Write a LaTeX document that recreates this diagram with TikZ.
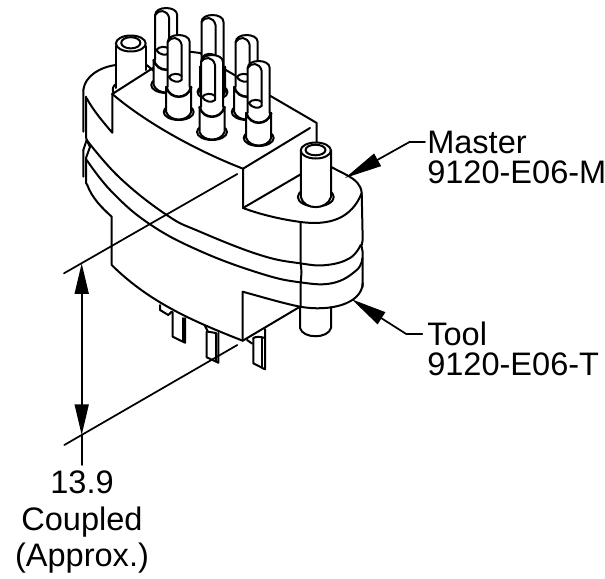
\documentclass[tikz,border=0pt]{standalone}
\usepackage{fontspec}
\setmainfont{Liberation Sans}
\usetikzlibrary{arrows.meta}
\tikzset{
  ln/.style={line width=1.5pt,line join=round,line cap=round},
  thin ln/.style={line width=1.3pt,line join=round,line cap=round},
  lab/.style={inner sep=0pt,align=left,anchor=base west,font=\fontsize{24.4}{22.5}\selectfont},
  dimlab/.style={inner sep=0pt,align=center,anchor=base,font=\fontsize{24.4}{27.5}\selectfont},
  head/.style={-{Triangle[length=#1,width=10.5pt]},line width=1.3pt}
}
\newcommand{\slotpin}[2]{%
\begin{scope}[shift={(#1,#2)}]
  \draw[ln,fill=white] (0,77) ellipse [x radius=15,y radius=8];
  \draw[ln,fill=white] (-12.5,52) -- (-12.5,77) .. controls (-9,87) and (9,87) .. (12.5,77) -- (12.5,52);
  \draw[ln,fill=white] (-11,52) -- (-11,7) .. controls (-11,-2.3) and (11,-2.3) .. (11,7) -- (11,52);
  \draw[line width=1.9pt,line cap=round] (-12.5,52) .. controls (-9,65) and (9,65) .. (12.5,52);
  \draw[ln] (-11,7) .. controls (-8,1.5) and (1,1) .. (3,10) -- (3,45);
  \draw[ln] (-10,42) .. controls (-7,38) and (0,38) .. (3,41);
  \draw[ln] (-10,42) .. controls (-7,47) and (0,48) .. (3,45);
\end{scope}}
\begin{document}
\begin{tikzpicture}[x=0.75pt,y=-0.75pt]
\useasboundingbox (0,0) rectangle (605,578);
% blades under the body
\draw[ln] (160,305) -- (160,310) -- (168.3,315) -- (171.7,311.7);
\draw[ln] (172.7,312) -- (172.7,336.7) -- (185,342.7) -- (185,318);
\draw[ln] (183,318) -- (183,341);
\draw[ln] (205,326) -- (208,331.7) -- (216,333);
\draw[ln] (206.7,331.7) -- (206.7,357.3) -- (218.3,362.7) -- (218.3,333);
\draw[ln] (215.7,333) -- (215.7,361);
\draw[ln] (247,340) -- (252,343.5);
\draw[ln] (253.3,338) -- (253.3,363.3) -- (265,369.3) -- (265,329);
\draw[ln] (262.3,338) -- (262.3,367);
\draw[ln] (253.3,338) .. controls (256,336.5) and (260,336.5) .. (265,338);
% lower stub of the large pin
\draw[ln] (300,306.7) -- (300,328) .. controls (303,339) and (328,339) .. (331,328) -- (331,307);
% body lower part
\draw[ln] (87.3,185) .. controls (92,198) and (102,208) .. (111.7,216.7) -- (111.7,265)
  .. controls (150,303) and (195,322) .. (242.7,340.7) -- (300,306.7);
\draw[ln] (242.7,340.7) -- (242.7,291.7) .. controls (262,297) and (282,303) .. (300,306.7)
  .. controls (330,312) and (362,304) .. (362.7,283);
\draw[ln] (300.7,222) -- (300.7,263) -- (301.5,272) -- (300.7,283) -- (300.7,307);
% the two bands
\draw[ln] plot[smooth,tension=.7] coordinates {(86.7,140) (120,178) (166.7,215) (200,231.7) (260,255) (300,263.3) (326.7,265) (350,258) (360.7,245)};
\draw[ln] plot[smooth,tension=.7] coordinates {(86.7,160) (112,192) (150,224.3) (200,251) (260,273.3) (300,282.3) (333,283) (356.7,270) (362.3,258)};
% left silhouette
\draw[ln] (83.3,150) -- (83.3,176.7) (86,158) -- (86,183) -- (87.3,185);
\draw[ln] (86.7,140) -- (83.3,150) (86.7,140) -- (90,147) -- (86,158);
\draw[ln] (83.3,90) -- (83.3,131.7) (86,96.7) -- (86,137) -- (86.7,140);
% right silhouette
\draw[ln] (361.7,193) -- (362.7,240) -- (361.5,246) -- (362.7,252) -- (362.7,287);
% upper block and top face
\draw[ln] (83.3,90) .. controls (85,76) and (100,67) .. (116,65);
\draw[ln] (86.7,98.3) .. controls (93,110) and (103,122) .. (112.3,132.7) -- (112.3,93.3);
\draw[ln] (112.3,94) .. controls (145,122) and (195,150) .. (243,168.7) -- (310,128);
\draw[ln] (112.3,94) -- (153,68) -- (190,52);
\draw[ln] (146.7,65) -- (153.3,70.7);
\draw[ln] (190,51.7) -- (200,53) -- (225,69.5) -- (310,119) -- (316.7,123) -- (316.7,142);
% front notch
\draw[ln] (243,168.7) -- (243,208) .. controls (262,215) and (282,219.5) .. (300.7,222)
  .. controls (330,226) and (352,218) .. (361.7,193) .. controls (361,185) and (356,180) .. (346.7,175) -- (331.7,167.3);
\draw[ln] (243,208) -- (300.7,174.3);
% large pin at the back
\draw[ln] (116,88) -- (116,46) (145.7,46) -- (145.7,70);
\draw[ln] (113.5,93) .. controls (112,89) and (113,86) .. (116,84);
\draw[ln,fill=white] (130.8,43.5) ellipse [x radius=14.9,y radius=8];
\draw[ln] (130.8,42.8) ellipse [x radius=9.6,y radius=5.6];
% slotted pins, back to front
\slotpin{166.2}{8}
\slotpin{212.5}{15}
\slotpin{246.7}{35}
\slotpin{178.7}{35}
\slotpin{212}{55}
\slotpin{258.7}{61}
% large pin at the front
\draw[ln,fill=white] (315.8,197) ellipse [x radius=18,y radius=9.5];
\draw[ln,fill=white] (300.8,150.5) -- (300.8,197) .. controls (304,210.5) and (327,210.5) .. (331,197) -- (331,150.5);
\draw[ln,fill=white] (315.8,150.5) ellipse [x radius=15.1,y radius=8];
\draw[ln] (315.5,150) ellipse [x radius=10,y radius=5.3];
% dimension
\coordinate (extA0) at (64,273.3);
\coordinate (extA1) at (237.3,174);
\coordinate (extB0) at (64.3,445);
\coordinate (extB1) at (237.3,345);
\coordinate (dimtop) at (81.7,263.3);
\coordinate (dimbot) at (81.7,435);
\coordinate (dimmidA) at (81.7,300);
\coordinate (dimmidB) at (81.7,398);
\coordinate (dimend) at (81.7,465);
\draw[thin ln] (extA0) -- (extA1);
\draw[thin ln] (extB0) -- (extB1);
\draw[thin ln] (dimmidA) -- (dimmidB);
\draw[head=23pt] (dimmidA) -- (dimtop);
\draw[head=23pt] (dimmidB) -- (dimbot);
\draw[thin ln] (dimbot) -- (dimend);
% labels
\node[dimlab] (cap) at (82,566.7) {13.9\\Coupled\\(Approx.)};
\node[lab] (master) at (427,183) {Master\\9120-E06-M};
\node[lab] (tool) at (427,375) {Tool\\9120-E06-T};
\coordinate (mtip) at (345,178);
\coordinate (mbend) at (410,141.7);
\coordinate (mend) at (425,141.7);
\coordinate (ttip) at (351.7,299.3);
\coordinate (tbend) at (406.7,334.3);
\coordinate (tend) at (422.3,334.3);
\draw[head=28pt] (mbend) -- (mtip);
\draw[thin ln] (mbend) -- (mend);
\draw[head=26.5pt] (tbend) -- (ttip);
\draw[thin ln] (tbend) -- (tend);
\end{tikzpicture}
\end{document}
